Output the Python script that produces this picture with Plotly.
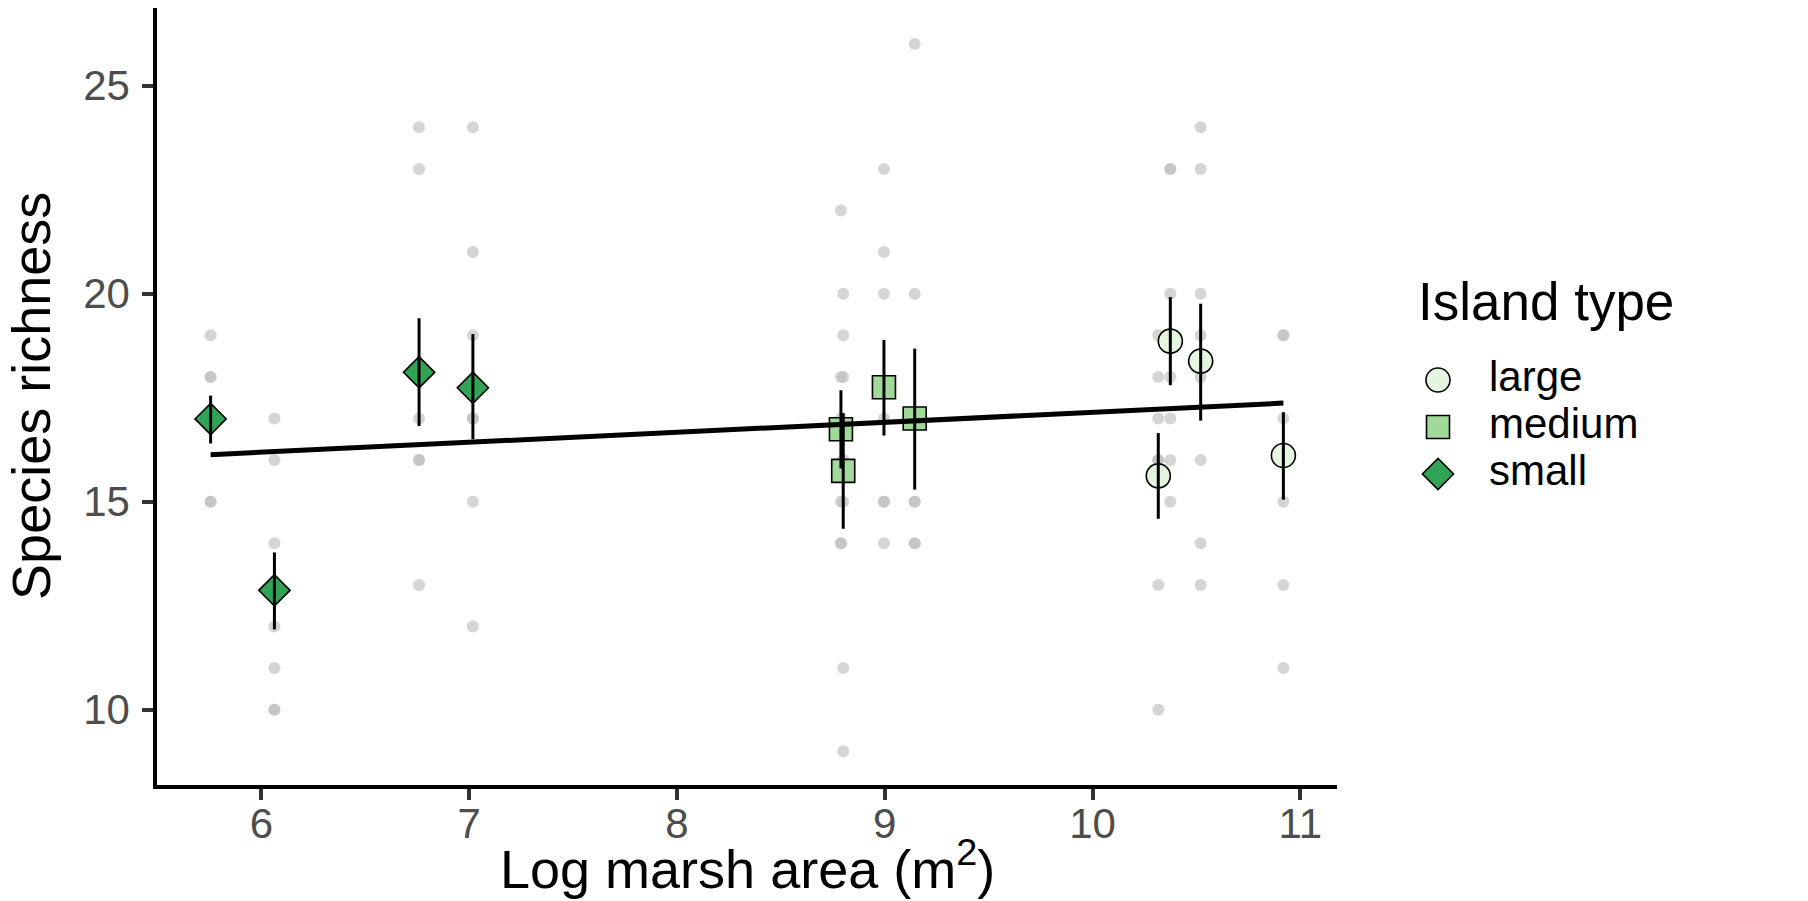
import plotly.graph_objects as go

# ---------------- data ----------------
island_type = ["small", "small", "small", "small",
               "medium", "medium", "medium", "medium",
               "large", "large", "large", "large"]
log_area = [5.756, 6.063, 6.759, 7.018,
            8.789, 8.800, 8.996, 9.144,
            10.316, 10.374, 10.520, 10.918]
raw_richness = [
    [19, 18, 18, 17, 15, 15],
    [17, 16, 14, 12, 11, 10, 10],
    [24, 23, 17, 16, 16, 13],
    [24, 21, 19, 17, 17, 15, 12],
    [22, 18, 17, 15, 14, 14],
    [20, 19, 18, 16, 15, 11, 9],
    [23, 21, 20, 17, 15, 15, 14],
    [26, 20, 15, 15, 14, 14],
    [19, 18, 17, 16, 16, 13, 10],
    [23, 23, 20, 18, 17, 16, 15],
    [24, 23, 20, 19, 18, 16, 14, 13],
    [19, 19, 17, 15, 13, 11],
]
mean_richness = [16.99, 12.87, 18.11, 17.74,
                 16.74, 15.74, 17.75, 17.00,
                 15.62, 18.86, 18.38, 16.11]
se_low = [16.40, 11.93, 16.82, 16.50,
          15.80, 14.35, 16.59, 15.29,
          14.59, 17.80, 16.95, 15.05]
se_high = [17.55, 13.78, 19.41, 19.03,
           17.68, 17.13, 18.89, 18.68,
           16.65, 19.92, 19.76, 17.15]
fit_x = [5.756, 10.918]
fit_y = [16.13, 17.37]

x_ticks = [6, 7, 8, 9, 10, 11]
y_ticks = [10, 15, 20, 25]

x_title = "Log marsh area (m<sup>2</sup>)"
y_title = "Species richness"
type_order = ["large", "medium", "small"]
legend_title = "Island type"

# ---------------- styles ----------------
type_colors = {"large": "#e5f5e0", "medium": "#a1d99b", "small": "#31a354"}
type_symbols = {"large": "circle", "medium": "square", "small": "diamond"}
type_sizes = {"large": 24, "medium": 23, "small": 24}

FONT = "Liberation Sans, Arial, Helvetica, sans-serif"
# the page body adds an 8px margin at the top-left, so the figure is offset by 8px
W, H = 1800, 893
PLOT_L, PLOT_R, PLOT_T, PLOT_B = 149, 1329, 0, 777   # plot area in figure px

# custom legend geometry (figure px)
LEG_KEY_X = 1430
LEG_LABEL_X = 1479
LEG_TITLE_X = 1408
LEG_ROW0 = 372
LEG_ROW_STEP = 47
LEG_TITLE_MID = 293
LEG_DOM = (0.3, 0.8)
LEG_XDOM = (0.77, 1.0)

fig = go.Figure()

# raw observations
raw_x, raw_y = [], []
for xv, ys in zip(log_area, raw_richness):
    for yv in ys:
        raw_x.append(xv)
        raw_y.append(yv)
fig.add_trace(go.Scatter(
    x=raw_x, y=raw_y, mode="markers", showlegend=False, hoverinfo="skip",
    marker=dict(color="rgba(190,190,190,0.65)", size=12, line=dict(width=0)),
))

# island means
for t in type_order:
    idx = [i for i, v in enumerate(island_type) if v == t]
    fig.add_trace(go.Scatter(
        x=[log_area[i] for i in idx], y=[mean_richness[i] for i in idx],
        mode="markers", name=t, showlegend=False,
        marker=dict(symbol=type_symbols[t], color=type_colors[t],
                    size=type_sizes[t], line=dict(color="black", width=1.6)),
    ))

# error bars (drawn over the means)
fig.add_trace(go.Scatter(
    x=log_area, y=mean_richness, mode="markers", showlegend=False, hoverinfo="skip",
    marker=dict(size=1, opacity=0),
    error_y=dict(type="data", symmetric=False,
                 array=[h - m for h, m in zip(se_high, mean_richness)],
                 arrayminus=[m - l for l, m in zip(se_low, mean_richness)],
                 color="black", thickness=3, width=0),
))

# fitted line
fig.add_trace(go.Scatter(
    x=fit_x, y=fit_y, mode="lines", showlegend=False, hoverinfo="skip",
    line=dict(color="black", width=5),
))

# ---------------- legend (drawn on a hidden helper axis) ----------------
rows = list(range(len(type_order)))
for i, t in enumerate(type_order):
    fig.add_trace(go.Scatter(
        x=[LEG_KEY_X], y=[rows[i]], mode="markers", xaxis="x2", yaxis="y2",
        showlegend=False, hoverinfo="skip",
        marker=dict(symbol=type_symbols[t], color=type_colors[t],
                    size=type_sizes[t], line=dict(color="black", width=1.6)),
    ))
    fig.add_annotation(x=LEG_LABEL_X, y=rows[i] - 0.08, xref="x2", yref="y2",
                       text=t, showarrow=False, xanchor="left", yanchor="middle",
                       font=dict(size=42, color="black", family=FONT))
fig.add_annotation(x=LEG_TITLE_X, y=(LEG_TITLE_MID - LEG_ROW0) / LEG_ROW_STEP,
                   xref="x2", yref="y2", text=legend_title, showarrow=False,
                   xanchor="left", yanchor="middle",
                   font=dict(size=53, color="black", family=FONT))

# ---------------- axis titles ----------------
fig.add_annotation(x=(PLOT_L + PLOT_R) / 2 / W, y=0,
                   xref="paper", yref="paper", text=x_title, showarrow=False,
                   xanchor="center", yanchor="bottom",
                   font=dict(size=54, color="black", family=FONT))
fig.add_annotation(x=23.4 / W, y=1 - 387.5 / H,
                   xref="paper", yref="paper", text=y_title, showarrow=False,
                   textangle=-90, xanchor="center", yanchor="middle",
                   font=dict(size=54, color="black", family=FONT))

y2_top_px = H * (1 - LEG_DOM[1])
y2_bot_px = H * (1 - LEG_DOM[0])

fig.update_layout(
    width=W, height=H,
    margin=dict(l=0, r=0, t=0, b=0),
    plot_bgcolor="rgba(0,0,0,0)", paper_bgcolor="white",
    font=dict(family=FONT, color="black"),
    showlegend=False,
    xaxis=dict(
        domain=[PLOT_L / W, PLOT_R / W], automargin=False,
        range=[5.498, 11.176], tickvals=x_ticks,
        showgrid=False, zeroline=False,
        showline=True, linecolor="black", linewidth=3.5,
        ticks="outside", ticklen=11, tickwidth=3.5, tickcolor="#333333",
        tickfont=dict(size=42, color="#4d4d4d", family=FONT),
        ticklabelstandoff=-12,
    ),
    yaxis=dict(
        domain=[1 - PLOT_B / H, 1 - PLOT_T / H], automargin=False,
        range=[8.19, 26.868], tickvals=y_ticks,
        showgrid=False, zeroline=False,
        showline=True, linecolor="black", linewidth=3.5,
        ticks="outside", ticklen=11, tickwidth=3.5, tickcolor="#333333",
        tickfont=dict(size=42, color="#4d4d4d", family=FONT),
        ticklabelstandoff=4,
    ),
    xaxis2=dict(domain=list(LEG_XDOM), range=[LEG_XDOM[0] * W, LEG_XDOM[1] * W],
                visible=False, fixedrange=True),
    yaxis2=dict(domain=list(LEG_DOM),
                range=[(y2_bot_px - LEG_ROW0) / LEG_ROW_STEP,
                       (y2_top_px - LEG_ROW0) / LEG_ROW_STEP],
                visible=False, fixedrange=True),
)

fig.write_html("out.html")
